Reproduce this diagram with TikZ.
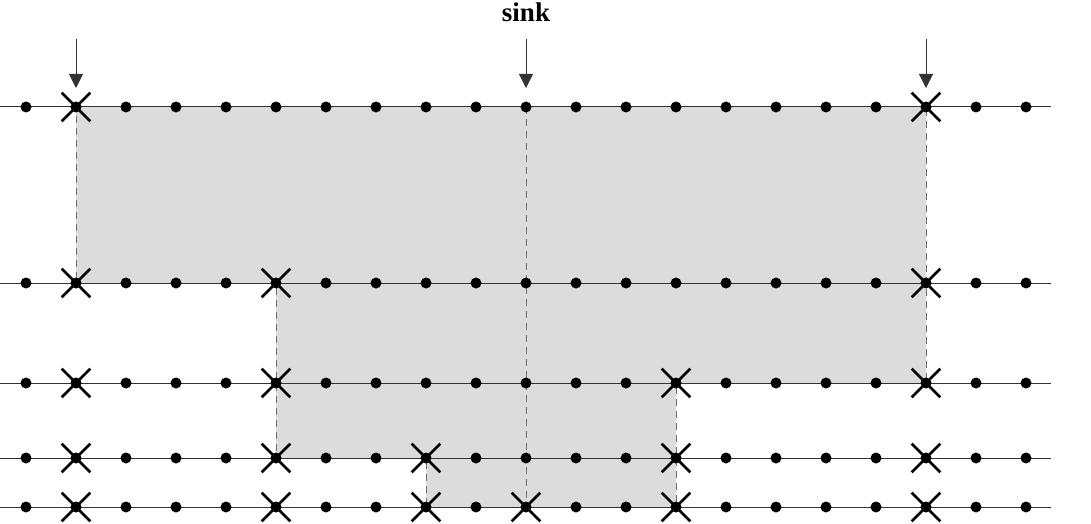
\documentclass[tikz,border=0pt]{standalone}
\usepackage{fontspec}
\setmainfont{Liberation Serif}
\usetikzlibrary{arrows.meta,shapes.misc}
\definecolor{regfill}{HTML}{DCDCDC}
\definecolor{edgegray}{HTML}{6E6E6E}
\definecolor{linegray}{HTML}{333333}
\begin{document}
\begin{tikzpicture}[x=1pt,y=-1pt,
  gridline/.style={draw=linegray,line width=1pt},
  regionedge/.style={draw=edgegray,line width=1pt,dash pattern=on 7pt off 5pt},
  dotnode/.style={circle,fill=black,inner sep=0pt,minimum size=11pt},
  xmark/.style={cross out,draw=black,line width=2.7pt,inner sep=0pt,minimum size=26pt},
  arr/.style={draw=linegray,line width=1pt,-{Triangle[width=14pt,length=14pt]}},
  lbl/.style={font=\fontsize{27}{30}\selectfont\bfseries,inner sep=0pt}]
\useasboundingbox (0,0) rectangle (1091,524);
% shaded region
\fill[regfill] (76,107) -- (926,107) -- (926,383) -- (676,383) -- (676,507) -- (426,507)
  -- (426,458) -- (276,458) -- (276,283) -- (76,283) -- cycle;
\draw[regionedge] (76,107) -- (926,107) -- (926,383) -- (676,383) -- (676,507) -- (426,507)
  -- (426,458) -- (276,458) -- (276,283) -- (76,283) -- cycle;
\draw[regionedge] (526,107) -- (526,507);
% rows
\foreach \y [count=\r] in {107,283,383,458,507} {
  \coordinate (L\r) at (0,\y);
  \coordinate (R\r) at (1051,\y);
  \draw[gridline] (L\r) -- (R\r);
  \foreach \c in {0,...,20} {
    \node[dotnode] (d-\r-\c) at ({26+50*\c},\y) {};
  }
}
% crosses
\foreach \r/\cs in {1/{1,18},2/{1,5,18},3/{1,5,13,18},4/{1,5,8,13,18},5/{1,5,8,10,13,18}} {
  \foreach \c in \cs {
    \node[xmark] (x-\r-\c) at (d-\r-\c) {};
  }
}
% label and arrows
\node[lbl] (sink) at (526,12) {sink};
\coordinate (a1) at (76,39);
\coordinate (a2) at (526,39);
\coordinate (a3) at (926,39);
\draw[arr] (a1) -- ([yshift=19pt]d-1-1.center);
\draw[arr] (a2) -- ([yshift=19pt]d-1-10.center);
\draw[arr] (a3) -- ([yshift=19pt]d-1-18.center);
\end{tikzpicture}
\end{document}
